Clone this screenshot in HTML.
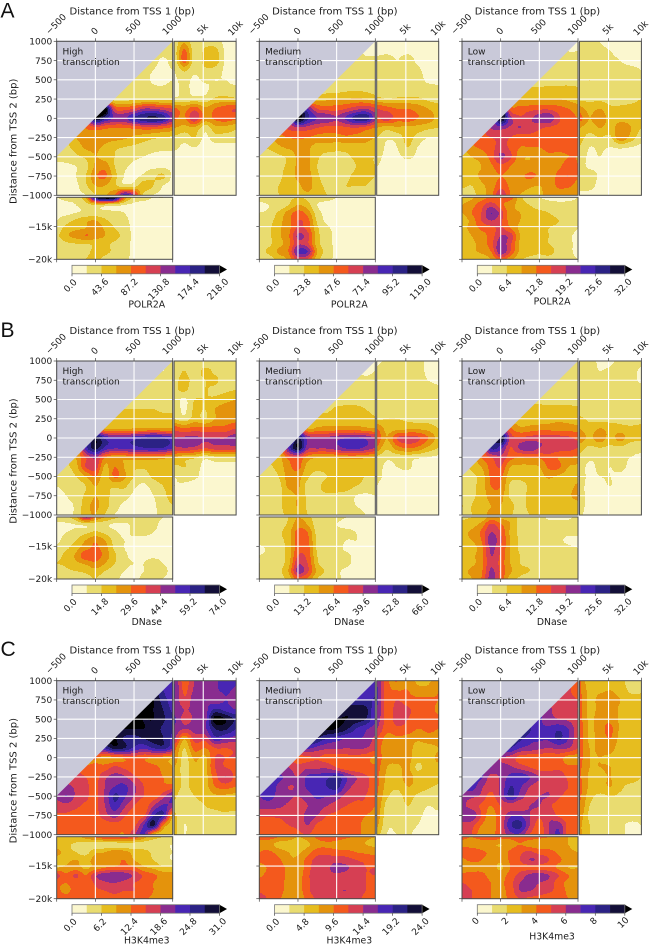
<!DOCTYPE html>
<html lang="en">
<head>
<meta charset="utf-8">
<title>Transcription contour panels</title>
<style>
html,body{margin:0;padding:0;background:#fff;}
svg{display:block;font-family:"DejaVu Sans","Liberation Sans",sans-serif;}
</style>
</head>
<body>
<svg id="figure" xmlns="http://www.w3.org/2000/svg" width="650" height="945" viewBox="0 0 650 945"></svg>
<script>
const mainX = [-500,-375,-250,-125,0,125,250,375,500,625,750,875,1000];
const mainY = [1000,875,750,625,500,375,250,125,0,-125,-250,-375,-500,-625,-750,-875,-1000];
const rightX = [1000,2400,3800,5300,6800,8400,10000];
const bottomY = [-1000,-4700,-8400,-12100,-15250,-16400,-17600,-18800,-20000];
const colourMaxPol = [218,119,32];
const colourMaxDnase = [74,66,32];
const colourMaxK4 = [31,24,10];
const ticksPolHigh = ["0.0","43.6","87.2","130.8","174.4","218.0"];
const ticksPolMed = ["0.0","23.8","47.6","71.4","95.2","119.0"];
const ticksPolLow = ["0.0","6.4","12.8","19.2","25.6","32.0"];
const ticksDnaseHigh = ["0.0","14.8","29.6","44.4","59.2","74.0"];
const ticksDnaseMed = ["0.0","13.2","26.4","39.6","52.8","66.0"];
const ticksDnaseLow = ["0.0","6.4","12.8","19.2","25.6","32.0"];
const ticksK4High = ["0.0","6.2","12.4","18.6","24.8","31.0"];
const ticksK4Med = ["0.0","4.8","9.6","14.4","19.2","24.0"];
const ticksK4Low = ["0","2","4","6","8","10"];

const polHighMain = [
[12,12],[12,12,12],[12,12,9,12],[14,12,10,8,10],[14,14,12,9,8,10],[14,14,14,14,12,12,14],
[16,16,16,18,18,18,18,18],[120,105,50,45,50,60,60,55,50],[55,100,82,68,68,80,88,92,85,65],
[30,40,46,42,40,40,42,45,45,42,38],[20,30,34,36,35,34,32,28,25,22,20,18],
[14,18,24,32,32,28,22,20,18,16,14,12,12],[12,14,18,22,30,26,20,16,12,10,8,8,8],
[8,8,10,16,32,36,20,12,8,8,8,8,8],[6,6,10,20,38,42,24,10,8,12,18,22,8],
[6,6,8,18,30,30,22,14,16,26,20,10,6],[6,6,8,10,20,28,40,75,60,18,10,8,6]];
const polHighRight = [
[12,28,12,16,14,8,8],[14,42,14,22,24,8,8],[12,44,14,24,26,8,6],[10,22,12,18,16,8,6],[8,14,8,12,10,10,6],
[8,12,8,8,14,14,14],[12,14,14,14,22,24,22],[42,36,46,32,40,46,50],[42,38,58,36,42,46,42],[30,26,28,14,26,26,22],
[18,14,20,8,16,16,16],[12,8,10,6,6,6,6],[8,6,6,6,6,6,6],[8,6,6,6,6,6,6],[8,6,6,6,6,6,6],[8,6,6,6,6,6,6],[6,6,6,6,6,6,6]];
const polHighBottom = [
[10,12,14,30,90,110,100,40,16,12,10,10,8],[8,8,10,14,20,16,14,10,8,8,8,8,8],[8,8,10,12,14,14,12,10,8,8,8,8,8],
[10,16,22,28,30,22,16,12,8,8,8,8,8],[14,24,28,30,38,28,20,14,8,8,8,8,8],[18,28,34,40,36,30,24,16,8,8,8,8,8],
[12,18,20,20,22,22,18,14,8,8,8,8,8],[10,14,16,18,22,22,18,14,8,8,8,8,8],[10,12,14,20,22,18,14,12,8,8,8,8,8]];

const polMedMain = [
[6,8],[12,8,8],[14,14,12,12],[12,14,14,14,12],[14,14,14,14,14,14],[16,16,16,18,18,18,16],
[24,25,28,30,30,32,30,26],[95,72,50,46,46,50,56,60,52],[60,105,82,70,68,62,72,85,88,65],
[45,52,58,55,50,46,46,48,50,45,40],[30,36,40,42,40,36,36,36,38,36,35,30],
[20,22,28,32,34,32,26,26,24,24,26,26,24],[14,14,18,22,32,32,22,16,16,18,22,22,20],
[14,14,18,22,32,32,20,12,12,14,20,22,20],[16,14,18,24,32,34,22,14,14,18,22,22,20],
[18,18,20,24,28,34,24,18,18,20,20,20,18],[18,18,20,22,24,28,24,20,18,18,18,18,16]];
const polMedRight = [
[10,8,8,8,8,8,8],[8,8,8,8,8,8,6],[12,14,10,14,8,6,6],[12,12,12,14,12,6,6],[12,14,14,14,14,8,8],[14,14,14,14,14,14,12],
[24,20,22,22,22,18,16],[50,45,40,40,36,30,24],[48,56,44,46,40,36,26],[30,24,28,26,26,22,20],[20,12,14,24,16,10,10],
[18,8,10,20,10,6,6],[12,8,8,12,8,6,6],[10,8,6,6,6,6,6],[8,6,6,6,6,6,6],[8,6,6,6,6,6,6],[8,6,6,6,6,6,6]];
const polMedBottom = [
[14,14,16,18,20,18,14,12,10,8,8,8,8],[8,10,12,20,30,24,10,8,8,8,8,8,8],[10,12,22,34,44,36,14,8,8,8,8,8,8],
[12,16,26,36,50,44,18,8,8,8,8,8,8],[14,18,28,36,52,46,22,12,8,8,8,8,8],[14,18,28,38,62,54,24,14,8,8,8,8,8],
[14,18,26,36,58,52,24,14,8,8,8,8,8],[18,22,32,40,72,70,30,16,8,8,8,8,8],[14,16,24,32,55,50,24,14,8,8,8,8,8]];

const polLowMain = [
[10,10],[12,10,10],[12,12,12,12],[14,12,12,12,12],[14,14,14,14,14,14],[22,22,22,24,24,24,22],
[34,30,28,30,30,30,28,24],[100,46,44,46,48,48,44,40,36],[58,102,64,52,58,66,68,52,44,40],
[48,60,64,58,60,56,52,48,46,44,42],[44,46,50,52,50,44,46,44,42,42,42,42],
[32,38,42,46,54,48,40,40,40,42,42,42,42],[24,30,34,44,62,52,34,30,36,38,38,40,40],
[22,26,30,38,46,40,32,34,36,32,38,44,40],[24,26,32,36,40,38,38,42,38,32,44,50,40],
[22,20,28,34,46,38,36,32,30,34,42,42,36],[14,16,26,36,60,40,30,26,28,34,34,32,30]];
const polLowRight = [
[10,14,10,8,8,8,8],[12,14,12,10,8,8,8],[12,14,14,12,10,8,8],[14,16,14,16,12,12,10],[14,20,14,14,14,14,12],
[14,18,14,14,14,14,14],[18,18,18,16,16,16,20],[34,26,30,22,22,24,26],[44,30,38,24,26,26,24],[30,24,30,26,36,30,20],
[24,16,20,18,38,26,14],[20,10,12,10,12,10,8],[16,8,10,6,6,6,6],[14,8,8,6,6,6,6],[12,16,8,6,6,6,6],[12,14,6,6,6,6,6],[8,6,6,6,6,6,6]];
const polLowBottom = [
[26,28,36,40,40,44,24,12,10,8,8,8,10],[30,36,46,56,44,34,26,20,16,14,12,12,12],[30,40,50,70,56,34,30,24,22,20,16,12,12],
[24,34,50,60,52,36,30,28,24,22,20,14,10],[26,34,42,46,52,40,28,24,22,20,18,14,10],[24,30,36,44,60,56,30,26,22,20,18,12,8],
[24,28,34,46,66,52,28,24,22,20,16,12,8],[24,28,32,40,68,50,28,24,22,24,16,12,8],[20,22,24,30,46,34,22,18,16,16,14,12,10]];

const dnaseHighMain = [
[10,10],[12,10,12],[14,14,12,12],[14,14,14,14,14],[16,16,16,16,14,14],[20,20,20,20,20,18,18],
[22,22,24,24,24,24,24,24],[45,30,28,28,30,30,32,30,30],[60,95,78,72,72,76,80,84,80,74],
[30,75,95,78,72,74,76,80,82,80,72],[20,30,50,62,40,34,34,36,36,36,34,30],
[14,18,26,50,56,28,40,30,22,22,24,24,22],[12,14,20,30,40,24,42,32,20,16,22,24,22],
[10,12,14,20,30,22,22,22,12,8,14,20,22],[8,10,14,22,30,24,16,14,8,6,10,18,22],
[8,8,12,26,32,24,14,8,6,6,8,16,20],[8,8,12,26,30,20,10,8,6,6,8,14,16]];
const dnaseHighRight = [
[12,16,20,14,18,16,12],[16,20,16,22,18,14,10],[18,22,18,20,22,14,12],[18,22,14,20,18,18,20],[16,8,20,20,22,26,30],
[18,8,22,20,30,36,38],[20,14,24,20,30,34,36],[46,40,44,42,44,44,50],[60,62,62,60,60,60,66],[58,60,58,52,56,56,56],
[30,24,22,14,18,18,18],[18,20,16,6,6,6,6],[10,14,12,6,6,6,6],[10,8,6,6,6,6,6],[8,6,6,6,6,6,6],[6,6,6,6,6,6,6],[6,6,6,6,6,6,6]];
const dnaseHighBottom = [
[14,18,28,62,40,30,22,18,14,14,12,10,8],[8,8,10,12,14,12,8,8,12,14,12,8,8],[8,10,14,18,22,18,12,8,12,12,10,8,8],
[8,14,20,30,38,30,16,10,8,8,8,8,8],[12,18,26,36,42,34,18,10,8,8,8,8,8],[16,24,32,48,46,36,22,12,8,8,8,8,8],
[20,22,28,32,38,30,20,12,10,10,14,10,8],[14,18,20,22,26,20,14,10,8,10,14,12,8],[10,12,14,16,20,14,12,8,8,12,14,10,8]];

const dnaseMedMain = [
[8,8],[10,8,10],[12,12,12,12],[12,12,14,14,14],[14,14,14,14,14,14],[18,18,22,24,24,20,16],
[24,24,24,26,28,28,26,22],[60,30,32,34,34,34,34,32,30],[55,90,66,62,62,66,70,72,68,60],
[30,72,100,64,62,62,66,72,74,68,60],[22,26,44,50,36,30,30,32,34,34,32,30],
[14,18,24,36,44,26,24,24,24,24,24,24,24],[14,14,20,34,34,22,16,20,24,24,22,20,20],
[14,14,16,32,32,16,18,24,24,24,20,18,18],[14,14,18,24,30,18,18,18,18,16,10,8,10],
[14,14,18,24,30,18,14,14,14,14,10,8,8],[14,14,18,22,28,20,14,14,14,14,14,10,8]];
const dnaseMedRight = [
[8,12,12,14,14,8,8],[12,14,14,14,14,8,8],[12,14,14,14,14,10,8],[14,14,14,14,14,14,12],[14,14,14,14,14,14,12],
[14,14,14,14,14,14,14],[18,20,20,18,16,16,14],[40,26,26,28,28,26,20],[48,30,50,54,52,40,26],[38,22,36,42,38,28,20],
[18,12,14,14,12,10,8],[14,8,10,12,6,6,6],[12,8,6,6,6,6,6],[10,6,6,6,6,6,6],[10,6,6,6,6,6,6],[10,6,6,6,6,6,6],[10,6,6,6,6,6,6]];
const dnaseMedBottom = [
[14,14,14,20,30,24,14,14,12,10,10,10,10],[12,14,16,22,36,30,14,12,10,8,8,8,8],[14,16,18,26,44,40,16,12,12,12,10,8,8],
[14,16,18,24,46,42,18,14,14,10,10,8,8],[8,12,16,24,46,44,18,14,14,8,8,8,8],[10,12,16,24,50,46,20,14,14,12,8,8,8],
[10,14,16,26,58,50,22,14,14,12,8,8,8],[14,18,18,30,64,52,28,18,12,8,8,8,8],[12,14,16,24,46,38,20,14,12,8,8,8,8]];

const dnaseLowMain = [
[12,12],[12,12,12],[14,14,14,14],[14,14,14,14,14],[16,16,14,14,14,14],[22,24,24,24,24,24,22],
[26,26,24,24,26,28,26,24],[60,42,32,34,36,36,36,36,34],[70,100,56,52,54,56,56,54,52,48],
[40,82,75,50,62,68,60,58,56,54,50],[26,40,50,58,44,40,42,42,46,40,40,38],
[18,22,30,44,50,30,28,28,30,42,42,30,28],[16,18,24,42,42,24,24,26,26,32,28,26,26],
[16,18,24,40,40,18,14,22,24,24,24,26,32],[16,18,24,34,34,18,14,24,24,24,24,28,34],
[20,20,26,30,30,24,14,24,24,24,24,24,26],[18,20,26,32,30,22,14,20,24,24,24,24,24]];
const dnaseLowRight = [
[10,14,8,8,14,14,14],[12,14,10,12,14,14,8],[12,14,14,14,14,14,8],[14,14,14,14,14,14,14],[14,14,14,14,14,14,14],
[16,14,14,14,14,14,14],[22,18,16,16,16,14,14],[30,24,30,26,24,22,24],[36,28,36,26,34,24,22],[24,18,20,18,18,14,14],
[18,12,12,12,12,10,8],[14,8,12,10,12,8,8],[14,8,10,10,8,6,6],[12,8,8,10,6,6,6],[12,8,6,6,6,6,6],[12,8,6,6,6,6,6],[12,6,6,6,6,6,6]];
const dnaseLowBottom = [
[18,20,22,34,28,26,18,16,14,8,8,8,14],[24,26,34,52,42,30,16,16,14,14,14,14,14],[28,32,42,60,50,28,18,16,14,14,14,12,12],
[28,30,40,66,52,30,18,16,14,14,12,8,8],[24,26,36,62,50,30,18,16,14,14,14,12,10],[24,28,36,60,48,30,20,16,14,14,14,14,14],
[26,28,36,58,46,30,20,18,16,14,14,14,14],[28,32,38,62,48,32,24,20,18,14,14,14,14],[26,30,40,64,46,26,18,14,14,14,14,14,14]];

const k4HighMain = [
[70,70],[92,80,72],[100,100,85,75],[105,105,100,90,78],[105,105,100,100,92,82],[100,100,100,100,95,88,80],
[105,102,88,85,90,95,90,78],[70,80,95,90,78,72,80,85,72],[38,42,35,38,42,45,42,40,36,32],
[45,42,42,45,52,48,44,44,42,38,30],[55,55,50,46,58,64,62,52,46,42,40,34],
[60,62,58,52,48,60,70,72,62,50,44,42,44],[62,70,58,52,48,62,82,72,60,50,44,56,70],
[55,56,52,48,48,60,76,62,50,42,60,72,66],[48,48,46,44,46,56,64,52,44,48,78,80,32],
[42,42,44,44,42,44,46,44,46,70,92,40,24],[44,46,44,42,42,42,42,40,58,72,30,22,28]];
const k4HighRight = [
[70,45,60,62,66,80,72],[72,48,62,62,68,72,68],[70,52,66,70,64,70,66],[68,60,62,66,82,76,70],[72,56,62,66,105,100,88],
[68,60,64,68,90,92,80],[62,32,54,54,76,70,66],[44,20,44,40,50,50,52],[38,16,32,28,50,50,50],[30,16,28,28,50,50,46],
[26,18,24,26,46,60,46],[26,18,24,26,40,44,40],[22,14,20,22,28,28,26],[18,14,18,20,22,24,24],[22,12,16,18,18,18,16],
[24,10,16,16,18,16,16],[24,10,16,16,16,16,14]];
const k4HighBottom = [
[24,26,28,34,42,48,50,54,48,34,24,20,18],[24,22,18,14,14,14,14,14,14,14,12,12,10],[34,24,20,16,28,30,36,34,26,24,18,14,10],
[24,28,30,26,34,34,36,40,30,24,20,14,10],[30,32,34,28,34,40,42,44,42,32,28,22,24],[54,42,52,40,58,66,68,66,58,48,42,36,34],
[42,40,44,42,52,58,60,56,50,46,40,36,34],[42,38,44,46,48,50,54,50,50,46,40,36,34],[46,44,46,44,46,44,44,42,44,42,38,34,32]];

const k4MedMain = [
[60,75],[62,72,78],[80,80,80,80],[90,96,98,94,72],[96,100,100,96,90,72],[100,102,100,92,80,72,66],
[102,90,80,75,70,70,68,58],[70,72,66,62,62,60,62,60,54],[50,46,48,50,46,46,46,46,44,38],
[62,60,54,58,58,58,50,44,42,42,42],[68,72,66,60,72,74,78,84,70,60,52,46],
[68,75,68,60,62,72,74,80,84,66,56,52,46],[70,74,66,62,60,66,72,70,66,56,52,50,44],
[64,64,62,58,52,60,64,60,54,50,48,48,40],[52,52,52,54,52,64,60,50,48,46,46,40,36],
[44,44,46,50,52,60,48,46,46,46,44,36,34],[46,44,46,46,48,50,44,44,44,44,42,38,32]];
const k4MedRight = [
[70,42,40,38,28,28,38],[72,44,40,40,34,34,40],[72,44,50,44,42,42,40],[70,46,54,52,44,44,38],[66,46,54,50,44,44,42],
[60,44,48,46,40,42,40],[50,36,38,36,32,36,36],[44,34,36,34,26,26,30],[46,34,34,34,24,26,32],[44,30,28,32,18,26,28],
[42,28,26,34,26,28,26],[42,26,22,30,26,22,18],[40,22,16,24,18,14,14],[38,16,14,20,14,10,12],[36,14,12,16,12,8,8],
[32,12,12,14,10,6,6],[24,10,10,12,6,6,6]];
const k4MedBottom = [
[42,44,40,36,30,34,42,46,46,42,38,32,30],[38,34,26,24,22,28,36,38,36,32,32,30,28],[40,42,36,30,28,36,46,46,44,44,40,38,36],
[42,46,42,32,32,44,54,56,56,54,50,48,46],[34,42,46,36,32,46,56,58,64,62,54,50,50],[38,44,48,36,34,48,56,58,58,56,52,50,50],
[44,48,46,36,36,48,54,56,56,56,54,50,48],[48,46,44,36,34,48,54,56,58,60,54,50,46],[56,48,42,34,32,44,52,52,52,54,52,48,44]];

const k4LowMain = [
[54,44],[60,52,44],[62,54,54,50],[72,62,56,52,50],[76,72,64,60,58,52],[100,82,72,72,78,70,54],
[92,84,74,72,72,82,70,54],[82,80,70,66,62,60,62,60,50],[64,60,56,46,44,44,42,44,36,36],
[72,70,64,62,56,50,46,46,48,42,42],[74,72,56,62,74,78,70,60,56,56,48,44],
[74,76,62,54,62,80,72,60,56,58,56,50,44],[64,62,58,46,62,82,66,56,60,60,52,46,44],
[62,56,48,40,50,54,52,60,60,52,46,44,42],[66,68,50,34,50,68,70,60,52,58,48,44,42],
[58,54,40,34,50,78,84,60,46,60,66,46,42],[60,50,34,34,50,66,68,50,42,60,72,44,42]];
const k4LowRight = [
[42,22,26,26,24,14,14],[42,26,28,30,26,18,18],[44,26,34,34,30,24,24],[44,26,34,36,28,24,24],[44,28,36,38,28,24,24],
[46,28,36,42,28,24,24],[46,28,34,40,26,24,24],[44,30,32,34,24,24,24],[44,30,30,28,24,24,24],[42,30,30,30,24,24,24],
[42,28,28,30,24,24,20],[44,28,26,30,22,18,18],[42,24,18,20,18,16,16],[40,20,16,14,14,14,14],[36,18,14,14,14,14,12],
[32,20,14,14,12,8,10],[32,20,14,14,12,8,8]];
const k4LowBottom = [
[42,40,44,46,44,42,44,44,42,40,36,30,28],[38,36,34,32,30,36,40,36,34,34,32,30,28],[44,46,42,38,34,42,48,52,46,44,38,32,30],
[38,42,40,36,32,42,50,60,58,50,42,36,32],[34,34,38,36,28,40,46,46,46,44,38,30,30],[42,46,42,38,36,44,54,62,64,60,50,40,34],
[50,48,44,40,38,46,60,62,60,56,44,38,36],[52,50,46,40,38,44,60,60,56,52,46,38,36],[56,50,46,40,38,42,50,48,46,44,42,40,36]];

const SVGNS = "http://www.w3.org/2000/svg";
const root = document.getElementById("figure");
const bandColours = ["#fbf7cf","#e9dc70","#e6bd1f","#e4930c","#f4591d","#d63f53","#892c8f","#4826b4","#2b2285","#130f38","#000000"];
const columnLeft = [56.7,259.3,462];
const rowTop = [41.3,361,680.7];
const conditionNames = ["High","Medium","Low"];
const TEXT = "#1a1a1a";
const SPINE = "#4a4a4a";

function mk(tag, attrs, parent){
  const el = document.createElementNS(SVGNS, tag);
  for (const k in attrs) el.setAttribute(k, attrs[k]);
  parent.appendChild(el);
  return el;
}
function label(parent, str, x, y, size, extra){
  const a = Object.assign({x:x, y:y, "font-size":size, fill:TEXT}, extra || {});
  const t = mk("text", a, parent);
  t.textContent = str;
  return t;
}
function catmull(p0,p1,p2,p3,t){
  return 0.5*((2*p1)+(-p0+p2)*t+(2*p0-5*p1+4*p2-p3)*t*t+(-p0+3*p1-3*p2+p3)*t*t*t);
}
function locate(arr, v){
  let i = 0;
  while (i < arr.length-2 && v > arr[i+1]) i++;
  let t = (v-arr[i])/(arr[i+1]-arr[i]);
  return [i, Math.max(0, Math.min(1, t))];
}
function sample(grid, xp, yp, px, py){
  const [i,u] = locate(xp, px);
  const [j,v] = locate(yp, py);
  const rows = [];
  for (let r = j-1; r <= j+2; r++){
    const row = grid[Math.max(0, Math.min(grid.length-1, r))];
    const n = row.length-1;
    rows.push(catmull(row[Math.max(0,i-1)], row[i], row[i+1], row[Math.min(n,i+2)], u));
  }
  return catmull(rows[0], rows[1], rows[2], rows[3], v);
}
function drawField(parent, grid, xp, yp, box, vmax){
  const paths = bandColours.map(()=>[]);
  const x0 = Math.round(box.x0), x1 = Math.round(box.x1), y0 = Math.round(box.y0), y1 = Math.round(box.y1);
  for (let y = y0; y < y1; y++){
    let start = x0, cur = -1;
    for (let x = x0; x <= x1; x++){
      let lev = -2;
      if (x < x1){
        const value = sample(grid, xp, yp, x+0.5, y+0.5)/100*vmax;
        lev = Math.max(0, Math.min(10, Math.floor(value/(vmax/10))));
      }
      if (lev !== cur){
        if (cur >= 0) paths[cur].push("M"+start+" "+y+"h"+(x-start)+"v1h"+(start-x)+"z");
        start = x; cur = lev;
      }
    }
  }
  paths.forEach((p, k)=>{
    if (!p.length) return;
    const el = mk("path", {d:p.join(""), fill:bandColours[k], "shape-rendering":"crispEdges"}, parent);
    
    
  });
}

const panels = [
 {key:"polr2a-high",r:0,c:0,vmax:colourMaxPol[0],ticks:ticksPolHigh,name:"POLR2A",main:polHighMain,right:polHighRight,bottom:polHighBottom,labelDy:31},
 {key:"polr2a-medium",r:0,c:1,vmax:colourMaxPol[1],ticks:ticksPolMed,name:"POLR2A",main:polMedMain,right:polMedRight,bottom:polMedBottom,labelDy:31},
 {key:"polr2a-low",r:0,c:2,vmax:colourMaxPol[2],ticks:ticksPolLow,name:"POLR2A",main:polLowMain,right:polLowRight,bottom:polLowBottom,labelDy:28},
 {key:"dnase-high",r:1,c:0,vmax:colourMaxDnase[0],ticks:ticksDnaseHigh,name:"DNase",main:dnaseHighMain,right:dnaseHighRight,bottom:dnaseHighBottom,labelDy:29},
 {key:"dnase-medium",r:1,c:1,vmax:colourMaxDnase[1],ticks:ticksDnaseMed,name:"DNase",main:dnaseMedMain,right:dnaseMedRight,bottom:dnaseMedBottom,labelDy:29},
 {key:"dnase-low",r:1,c:2,vmax:colourMaxDnase[2],ticks:ticksDnaseLow,name:"DNase",main:dnaseLowMain,right:dnaseLowRight,bottom:dnaseLowBottom,labelDy:29},
 {key:"h3k4me3-high",r:2,c:0,vmax:colourMaxK4[0],ticks:ticksK4High,name:"H3K4me3",main:k4HighMain,right:k4HighRight,bottom:k4HighBottom,labelDy:28},
 {key:"h3k4me3-medium",r:2,c:1,vmax:colourMaxK4[1],ticks:ticksK4Med,name:"H3K4me3",main:k4MedMain,right:k4MedRight,bottom:k4MedBottom,labelDy:28},
 {key:"h3k4me3-low",r:2,c:2,vmax:colourMaxK4[2],ticks:ticksK4Low,name:"H3K4me3",main:k4LowMain,right:k4LowRight,bottom:k4LowBottom,labelDy:24}
];

const xTickMain = [[-500,"\u2212500",-16.5],[0,"0",-9.5],[500,"500",-14],[1000,"1000",-15.5]];
const xTickRight = [[5000,"5k",-11.5],[10000,"10k",-12.5]];
const yTickMain = [1000,750,500,250,0,-250,-500,-750,-1000];
const yTickBottom = [[-15000,"\u221215k"],[-20000,"\u221220k"]];

panels.forEach(p=>{
  const L = columnLeft[p.c], T = rowTop[p.r];
  const mainW = 116, H = 154, rightL = L+117.4, rightW = 62, botT = T+156, botH = 62;
  const xMain = b => L + (b+500)/1500*mainW;
  const yMain = b => T + (1000-b)/2000*H;
  const xRight = b => rightL + rightW*(b<=5000 ? (b-1000)/4000*0.47 : 0.47+(b-5000)/5000*0.53);
  const yBot = b => botT + botH*(b>=-15000 ? (-1000-b)/14000*0.473 : 0.473+(-15000-b)/5000*0.527);

  const g = mk("g", {}, root);
  
  

  /* main block */
  const gm = mk("g", {}, g);
  
  
  const fullMain = p.main.map(row=>{
    const out = row.slice();
    while (out.length < mainX.length) out.unshift(row[0]);
    return out;
  });
  drawField(gm, fullMain, mainX.map(xMain), mainY.map(yMain), {x0:L,x1:L+mainW,y0:T,y1:T+H}, p.vmax);
  const tri = mk("polygon", {points:[xMain(-500)-0.5,yMain(1000)-0.5,xMain(1000)+0.5,yMain(1000)-0.5,xMain(-500)-0.5,yMain(-500)].join(" "), fill:"#c9c9d9"}, gm);
  
  

  /* right block */
  const gr = mk("g", {}, g);
  
  
  drawField(gr, p.right, rightX.map(xRight), mainY.map(yMain), {x0:rightL,x1:rightL+rightW,y0:T,y1:T+H}, p.vmax);

  /* bottom block */
  const gb = mk("g", {}, g);
  
  
  drawField(gb, p.bottom, mainX.map(xMain), bottomY.map(yBot), {x0:L,x1:L+mainW,y0:botT,y1:botT+botH}, p.vmax);

  /* white grid lines */
  const grid = mk("g", {stroke:"#fff","stroke-width":1.1}, g);
  
  
  [0,500].forEach(v=>{
    mk("line",{x1:xMain(v),x2:xMain(v),y1:T,y2:T+H},grid);
    mk("line",{x1:xMain(v),x2:xMain(v),y1:botT,y2:botT+botH},grid);
  });
  mk("line",{x1:xRight(5000),x2:xRight(5000),y1:T,y2:T+H},grid);
  yTickMain.slice(1,-1).forEach(v=>{
    mk("line",{x1:L,x2:L+mainW,y1:yMain(v),y2:yMain(v)},grid);
    mk("line",{x1:rightL,x2:rightL+rightW,y1:yMain(v),y2:yMain(v)},grid);
  });
  mk("line",{x1:L,x2:L+mainW,y1:yBot(-15000),y2:yBot(-15000)},grid);

  /* frames */
  const fr = mk("g",{fill:"none",stroke:SPINE,"stroke-width":1},g);
  
  
  mk("rect",{x:L,y:T,width:mainW,height:H},fr);
  mk("rect",{x:rightL,y:T,width:rightW,height:H},fr);
  mk("rect",{x:L,y:botT,width:mainW,height:botH},fr);

  /* tick marks */
  const tk = mk("g",{stroke:"#444","stroke-width":0.7},g);
  
  
  xTickMain.forEach(t=>{
    mk("line",{x1:xMain(t[0]),x2:xMain(t[0]),y1:T,y2:T-3},tk);
    mk("line",{x1:xMain(t[0]),x2:xMain(t[0]),y1:botT+botH,y2:botT+botH+3},tk);
  });
  xTickRight.forEach(t=>mk("line",{x1:xRight(t[0]),x2:xRight(t[0]),y1:T,y2:T-3},tk));
  yTickMain.forEach(v=>mk("line",{x1:L,x2:L-3,y1:yMain(v),y2:yMain(v)},tk));
  yTickBottom.forEach(t=>mk("line",{x1:L,x2:L-3,y1:yBot(t[0]),y2:yBot(t[0])},tk));

  /* x tick labels */
  xTickMain.forEach(t=>{
    const cx = xMain(t[0]), cy = T+t[2];
    const el = label(g,t[1],cx,cy,9,{"text-anchor":"middle","dominant-baseline":"central",transform:"rotate(-45 "+cx+" "+cy+")"});
    
    
  });
  xTickRight.forEach(t=>{
    const cx = xRight(t[0]), cy = T+t[2];
    const el = label(g,t[1],cx,cy,9,{"text-anchor":"middle","dominant-baseline":"central",transform:"rotate(-45 "+cx+" "+cy+")"});
    
    
  });
  const title = label(g,"Distance from TSS 1 (bp)",L+75.5,T-27,10,{"text-anchor":"middle"});
  
  

  /* y labels only first column */
  if (p.c === 0){
    yTickMain.forEach(v=>{
      const el = label(g,(v<0?"\u2212"+(-v):String(v)),L-4.5,yMain(v)+3.2,9,{"text-anchor":"end"});
      
      
    });
    yTickBottom.forEach(t=>{
      const el = label(g,t[1],L-4.5,yBot(t[0])+3.2,9,{"text-anchor":"end"});
      
      
    });
    const yt = label(g,"Distance from TSS 2 (bp)",14,T+100,10,{"text-anchor":"middle","dominant-baseline":"central",transform:"rotate(-90 14 "+(T+100)+")"});
    
    
  }

  /* condition text */
  const c1 = label(g,conditionNames[p.c],L+5.8,T+13,9);
  
  
  const c2 = label(g,"transcription",L+5.8,T+23.5,9);
  
  

  /* colour bar */
  const barL = L+15.3, barW = 147.5, barT = botT+botH+6, barH = 8.5;
  const cb = mk("g",{},g);
  
  
  for (let i=0;i<10;i++){
    const s = mk("rect",{x:barL+barW*i/10,y:barT,width:barW/10+0.3,height:barH,fill:bandColours[i]},cb);
    
    
  }
  const arrow = mk("polygon",{points:[barL+barW,barT,barL+barW+7.5,barT+barH/2,barL+barW,barT+barH].join(" "),fill:"#000"},cb);
  
  
  mk("rect",{x:barL,y:barT,width:barW,height:barH,fill:"none",stroke:"#777","stroke-width":0.8},cb);
  p.ticks.forEach((s,i)=>{
    const tx = barL+barW*i/5;
    mk("line",{x1:tx,x2:tx,y1:barT+barH,y2:barT+barH+2.5,stroke:"#444","stroke-width":0.7},cb);
    const dy = ({1:8.5,2:10,3:12.5,4:14,5:16})[s.length];
    const cx = tx-1, cy = barT+barH+dy;
    const el = label(cb,s,cx,cy,9,{"text-anchor":"middle","dominant-baseline":"central",transform:"rotate(-45 "+cx+" "+cy+")"});
    
    
  });
  const nm = label(cb,p.name,barL+barW/2+1,barT+barH+p.labelDy,9.3,{"text-anchor":"middle","dominant-baseline":"central"});
  
  
});

const letters = [["A",17.5],["B",337],["C",656]];
letters.forEach(a=>{
  const el = label(root,a[0],0.5,a[1],21,{"font-family":"'Liberation Sans',sans-serif",fill:"#111"});
  
  
});
</script>
</body>
</html>
